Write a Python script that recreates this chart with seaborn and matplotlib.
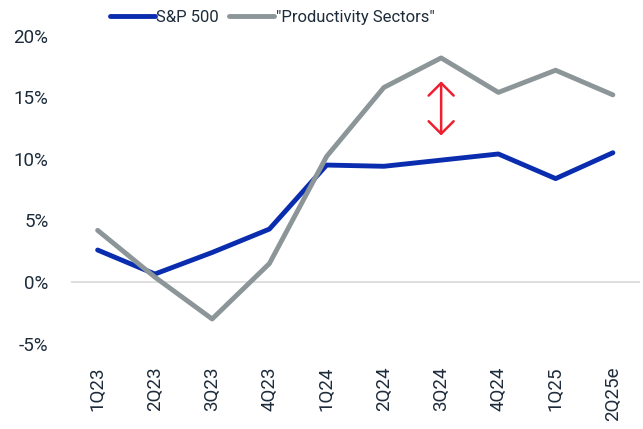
import numpy as np
import pandas as pd
import seaborn as sns
import matplotlib
matplotlib.use("Agg")
import matplotlib.pyplot as plt

quarters = ["1Q23", "2Q23", "3Q23", "4Q23", "1Q24", "2Q24", "3Q24", "4Q24", "1Q25", "2Q25e"]
sp500 = [2.6, 0.65, 2.4, 4.3, 9.5, 9.4, 9.9, 10.4, 8.4, 10.5]
productivity = [4.2, 0.4, -3.0, 1.5, 10.2, 15.8, 18.2, 15.4, 17.2, 15.2]
series_names = ["S&P 500", "\"Productivity Sectors\""]
colors = ["#0a2db0", "#8c9598"]

# gap marker at 3Q24
gap_quarter = "3Q24"
gap_range = (11.9, 16.3)

df = pd.DataFrame({
    "quarter": quarters * 2,
    "pos": list(range(len(quarters))) * 2,
    "value": sp500 + productivity,
    "series": [series_names[0]] * len(quarters) + [series_names[1]] * len(quarters),
})

sns.set_style("white")
plt.rcParams["font.family"] = ["Roboto", "DejaVu Sans"]
text_col = "#1d2b3a"

fig = plt.figure(figsize=(6.43, 4.29), dpi=100)
ax = fig.add_axes([0.110, 0.156, 0.885, 0.775])

ax.axhline(0, color="#d9d9d9", lw=1.2, zorder=0)
sns.lineplot(data=df, x="pos", y="value", hue="series", hue_order=series_names,
             palette=colors, linewidth=3.5, ax=ax, legend=False, sort=False)

gx = quarters.index(gap_quarter)
ax.annotate("", xy=(gx, gap_range[0]), xytext=(gx, gap_range[1]),
            arrowprops=dict(arrowstyle="<->,head_length=0.45,head_width=0.45",
                            color="#ee2030", lw=1.8,
                            mutation_scale=20, shrinkA=0, shrinkB=0))

ax.set_xlim(-0.47, len(quarters) - 1 + 0.47)
ax.set_ylim(-6.5, 20.5)
ax.set_yticks([-5, 0, 5, 10, 15, 20])
ax.set_yticklabels([f"{t}%" for t in [-5, 0, 5, 10, 15, 20]])
ax.set_xticks(range(len(quarters)))
ax.set_xticklabels(quarters, rotation=90)
ax.tick_params(axis="y", length=0, pad=16, labelsize=13.5, labelcolor=text_col)
ax.tick_params(axis="x", length=0, pad=3, labelsize=13.5, labelcolor=text_col)
ax.set_xlabel("")
ax.set_ylabel("")
for s in ax.spines.values():
    s.set_visible(False)

handles = [plt.Line2D([], [], color=c, lw=3.5) for c in colors]
fig.legend(handles, series_names, loc="center", bbox_to_anchor=(0.423, 0.96),
           ncol=2, frameon=False, fontsize=12, handlelength=2.7,
           handletextpad=0.1, columnspacing=0.6, labelcolor=text_col)

fig.savefig("out.png", dpi=100)
